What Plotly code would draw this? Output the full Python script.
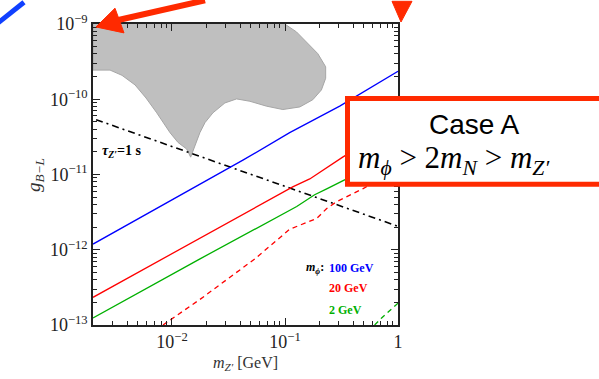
import plotly.graph_objects as go

# ---- data: couplings g_{B-L} versus Z' mass (GeV) ----
mz_100 = [0.002, 0.0177, 0.0325, 0.0424, 0.110, 0.305, 1.0]
g_100 = [1.19e-12, 7.5e-12, 1.25e-11, 1.55e-11, 3.6e-11, 8.1e-11, 2.35e-10]

mz_20 = [0.002, 0.0177, 0.117, 0.1656, 0.324, 1.0]
g_20 = [2.33e-13, 1.43e-12, 6.85e-12, 8.73e-12, 1.70e-11, 4.7e-11]

mz_2 = [0.002, 0.0177, 0.127, 0.183, 0.234, 0.337, 1.0]
g_2 = [1.24e-13, 7.57e-13, 3.75e-12, 5.38e-12, 6.45e-12, 8.48e-12, 2.04e-11]

mz_20_dash = [0.00833, 0.0177, 0.0541, 0.110, 0.191, 0.234, 0.287, 0.487, 1.0]
g_20_dash = [1.0e-13, 2.19e-13, 7.57e-13, 1.87e-12, 2.61e-12, 3.53e-12, 4.36e-12, 6.45e-12, 1.18e-11]

mz_2_dash = [0.621, 0.716, 1.0]
g_2_dash = [1.0e-13, 1.24e-13, 1.95e-13]

mz_tau = [0.00213, 1.0]
g_tau = [5.35e-11, 2.05e-12]

mz_excl = [0.002, 0.002, 0.00283, 0.00361, 0.00471, 0.00589, 0.00733, 0.00850, 0.00960,
           0.01130, 0.01349, 0.01463, 0.01534, 0.01597, 0.01766, 0.01958, 0.02303,
           0.02938, 0.0373, 0.0489, 0.0687, 0.0957, 0.1352, 0.1762, 0.210, 0.229,
           0.229, 0.195, 0.155, 0.1264, 0.0995]
g_excl = [1e-9, 2.44e-10, 2.44e-10, 2.08e-10, 1.55e-10, 1.04e-10, 6.6e-11, 4.73e-11, 3.6e-11,
          2.67e-11, 2.18e-11, 1.70e-11, 2.03e-11, 2.42e-11, 3.6e-11, 4.89e-11, 6.6e-11,
          8.93e-11, 1.01e-10, 9.4e-11, 8.09e-11, 7.3e-11, 7.9e-11, 9.86e-11, 1.33e-10, 1.90e-10,
          2.70e-10, 4.04e-10, 5.81e-10, 7.85e-10, 1e-9]

x_major = [0.01, 0.1, 1]
x_major_text = ["10<sup>−2</sup>", "10<sup>−1</sup>", "1"]
y_major = [1e-13, 1e-12, 1e-11, 1e-10, 1e-9]
y_major_text = ["10<sup>−13</sup>", "10<sup>−12</sup>", "10<sup>−11</sup>",
                "10<sup>−10</sup>", "10<sup>−9</sup>"]

# figure geometry
W, H = 599, 379
L, R, T, B = 93, 201, 20, 54
PW, PH = W - L - R, H - T - B

SERIF = "Liberation Serif"
RED = "#ff2a00"


def px(x):
    return (x - L) / PW


def py(y):
    return (H - B - y) / PH


x_minor = [m * 10.0 ** e for e in (-3, -2, -1) for m in range(2, 10)]
y_minor = [m * 10.0 ** e for e in (-13, -12, -11, -10) for m in range(2, 10)]

fig = go.Figure()

fig.add_trace(go.Scatter(x=mz_excl, y=g_excl, mode="lines", fill="toself",
                         fillcolor="#bfbfbf", line=dict(color="#a6a6a6", width=1),
                         hoverinfo="skip", showlegend=False))

fig.add_trace(go.Scatter(x=mz_tau, y=g_tau, mode="lines",
                         line=dict(color="black", width=1.6, dash="7px,4px,2px,4px"),
                         showlegend=False))
fig.add_trace(go.Scatter(x=mz_100, y=g_100, mode="lines",
                         line=dict(color="#0000ff", width=1.3), showlegend=False))
fig.add_trace(go.Scatter(x=mz_20, y=g_20, mode="lines",
                         line=dict(color="#ff0000", width=1.3), showlegend=False))
fig.add_trace(go.Scatter(x=mz_2, y=g_2, mode="lines",
                         line=dict(color="#00b000", width=1.3), showlegend=False))
fig.add_trace(go.Scatter(x=mz_20_dash, y=g_20_dash, mode="lines",
                         line=dict(color="#ff0000", width=1.3, dash="5px,4px"),
                         showlegend=False))
fig.add_trace(go.Scatter(x=mz_2_dash, y=g_2_dash, mode="lines",
                         line=dict(color="#00b000", width=1.3, dash="5px,4px"),
                         showlegend=False))

axis_common = dict(type="log", showgrid=False, zeroline=False, showline=True,
                   linecolor="#222", linewidth=1.5, mirror="ticks",
                   ticks="inside", ticklen=7, tickwidth=1.2, tickcolor="#222",
                   tickfont=dict(family=SERIF, size=18, color="#222"),
                   tickmode="array")

fig.update_xaxes(**axis_common, range=[-2.699, 0], tickvals=x_major,
                 ticktext=x_major_text,
                 minor=dict(tickmode="array", tickvals=x_minor, ticks="inside",
                            ticklen=4, tickwidth=1, tickcolor="#222"))
fig.update_yaxes(**axis_common, range=[-13, -9], tickvals=y_major,
                 ticktext=y_major_text,
                 minor=dict(tickmode="array", tickvals=y_minor, ticks="inside",
                            ticklen=4, tickwidth=1, tickcolor="#222"))

annotations = [
    # axis titles
    dict(x=px(35), y=py(173), text="<i>g</i><sub><i>B−L</i></sub>", textangle=-90,
         font=dict(family=SERIF, size=19, color="#333")),
    dict(x=px(245), y=py(364), text="<i>m</i><sub><i>Z′</i></sub> [GeV]",
         font=dict(family=SERIF, size=16, color="#333")),
    # lifetime label
    dict(x=px(100), y=py(149), xanchor="left",
         text="<b><i>τ</i><sub><i>Z′</i></sub>=1 s</b>",
         font=dict(family=SERIF, size=14, color="black")),
    # scalar mass labels
    dict(x=px(326), y=py(267), xanchor="right", text="<b><i>m</i><sub><i>ϕ</i></sub>:</b>",
         font=dict(family=SERIF, size=12, color="black")),
    dict(x=px(327), y=py(267), xanchor="left", text="<b>100 GeV</b>",
         font=dict(family=SERIF, size=12, color="#0000ff")),
    dict(x=px(327), y=py(288), xanchor="left", text="<b>20 GeV</b>",
         font=dict(family=SERIF, size=12, color="#ff0000")),
    dict(x=px(327), y=py(310), xanchor="left", text="<b>2 GeV</b>",
         font=dict(family=SERIF, size=12, color="#00b000")),
    # case box text
    dict(x=px(474), y=py(122), text="Case A",
         font=dict(family="Liberation Sans", size=28, color="black")),
    dict(x=px(356), y=py(158), xanchor="left",
         text="<i>m</i><sub><i>ϕ</i></sub> > 2<i>m</i><sub><i>N</i></sub> > <i>m</i><sub><i>Z′</i></sub>",
         font=dict(family=SERIF, size=31, color="black")),
]
for a in annotations:
    a.setdefault("xanchor", "center")
    a.update(xref="paper", yref="paper", yanchor="middle", showarrow=False)

shapes = [
    # case box
    dict(type="rect", x0=px(347.5), x1=px(610), y0=py(95.5), y1=py(182.5),
         fillcolor="white", line=dict(color=RED, width=5)),
    # arrow to the top-left corner
    dict(type="line", x0=px(205), y0=py(-4), x1=px(114), y1=py(17),
         line=dict(color=RED, width=6)),
    dict(type="path",
         path=f"M {px(96)} {py(23)} L {px(115)} {py(4)} L {px(124)} {py(29)} Z",
         fillcolor=RED, line=dict(color=RED, width=1)),
    # arrowhead at the top-right corner
    dict(type="path",
         path=f"M {px(392)} {py(-3)} L {px(412)} {py(-3)} L {px(401)} {py(18)} Z",
         fillcolor=RED, line=dict(color=RED, width=1)),
    # blue stroke at the top-left edge
    dict(type="line", x0=px(-2), y0=py(19), x1=px(24), y1=py(-2),
         line=dict(color="#1040ff", width=5)),
]
for s in shapes:
    s.update(xref="paper", yref="paper", layer="above")

fig.update_layout(width=W, height=H, margin=dict(l=L, r=R, t=T, b=B),
                  paper_bgcolor="white", plot_bgcolor="white",
                  annotations=annotations, shapes=shapes)

fig.write_html("out.html")
